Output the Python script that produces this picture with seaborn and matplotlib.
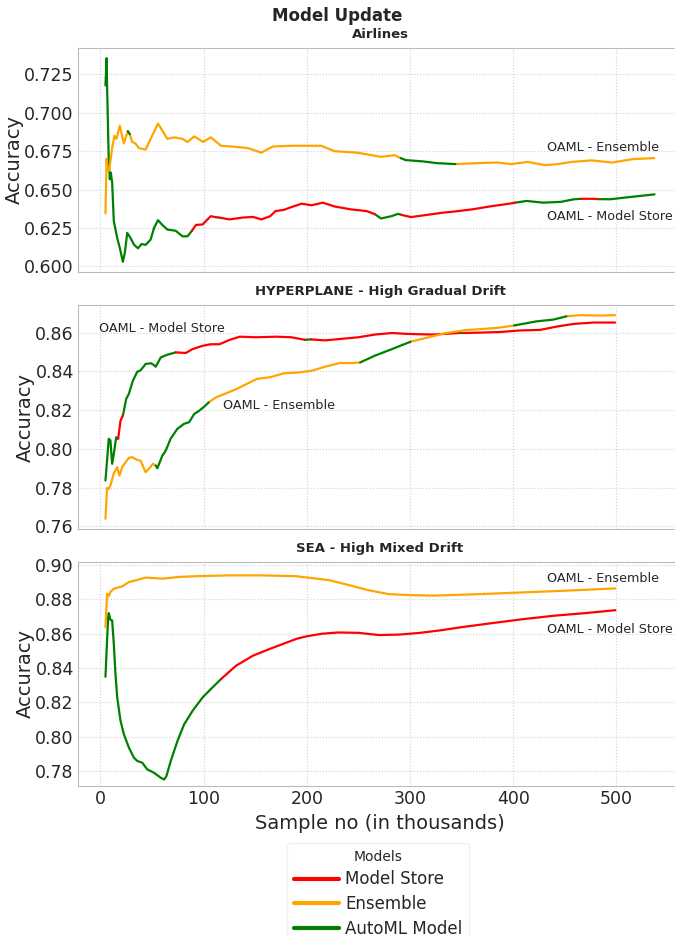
import numpy as np
import pandas as pd
import matplotlib
matplotlib.use("Agg")
import matplotlib.pyplot as plt
import seaborn as sns
from matplotlib.lines import Line2D
from matplotlib.ticker import MultipleLocator, FormatStrFormatter

# -----------------------------
# DATA (sample no in thousands, accuracy)
# -----------------------------
# Airlines
air_x_store = [4.9, 6.0, 6.5, 8.1, 9.1, 10.1, 11.4, 13, 16.3, 18.8, 21.8, 23.7, 26, 29.2, 32.5,
               36.4, 40, 43.8, 48.7, 52, 55.8, 60, 64.9, 73, 79.5, 84.4, 88.7, 92.6, 99, 102.3,
               107, 112, 115, 125, 138, 148, 156, 164.6, 169.6, 177.7, 185, 195, 204.7, 215.6,
               227, 243, 258, 266, 272, 282, 288.5, 292, 301, 314, 331, 344, 360, 380, 396, 402,
               413, 429, 446, 459, 466, 478, 482, 494, 511, 525, 537]
air_y_store = [0.7178, 0.7355, 0.7170, 0.6687, 0.6567, 0.6610, 0.6545, 0.6295, 0.6185, 0.6120,
               0.6030, 0.6090, 0.6218, 0.6185, 0.6142, 0.6118, 0.6146, 0.6140, 0.6175, 0.6251,
               0.6301, 0.6270, 0.6240, 0.6232, 0.6196, 0.6196, 0.6232, 0.6270, 0.6273, 0.6296,
               0.6327, 0.6320, 0.6318, 0.6306, 0.6318, 0.6322, 0.6306, 0.6327, 0.6360, 0.6368,
               0.6386, 0.6408, 0.6398, 0.6415, 0.6390, 0.6371, 0.6360, 0.6340, 0.6312, 0.6327,
               0.6342, 0.6335, 0.6321, 0.6333, 0.6349, 0.6358, 0.6371, 0.6393, 0.6408, 0.6415,
               0.6426, 0.6415, 0.6420, 0.6437, 0.6440, 0.6440, 0.6438, 0.6437, 0.6450, 0.6460,
               0.6469]
air_sw_store = [(0, "AutoML Model"), (88.7, "Model Store"), (112, "AutoML Model"),
                (115, "Model Store"), (266, "AutoML Model"), (292, "Model Store"),
                (402, "AutoML Model"), (466, "Model Store"), (482, "AutoML Model")]

air_x_ens = [4.9, 6.0, 7.0, 8.5, 11.4, 13.6, 15.5, 18.8, 22.7, 26.6, 28.5, 30.8, 34, 37.3, 43.8,
             48.7, 55.8, 64.9, 71.4, 79.5, 84.4, 90.9, 99.6, 107, 116.9, 128, 143, 156, 167, 185,
             214, 227, 249, 272, 285, 291, 295.8, 313, 326, 344, 365, 385, 398, 414, 431, 443.8,
             456.7, 476, 496, 515.6, 536.7]
air_y_ens = [0.6345, 0.6700, 0.6620, 0.6625, 0.6770, 0.6850, 0.6830, 0.6916, 0.6800, 0.6880,
             0.6860, 0.6810, 0.6800, 0.6770, 0.6760, 0.6830, 0.6930, 0.6830, 0.6840, 0.6830,
             0.6810, 0.6846, 0.6810, 0.6840, 0.6785, 0.6780, 0.6770, 0.6740, 0.6780, 0.6785,
             0.6785, 0.6750, 0.6740, 0.6713, 0.6724, 0.6705, 0.6692, 0.6683, 0.6672, 0.6666,
             0.6672, 0.6676, 0.6666, 0.6680, 0.6659, 0.6666, 0.6680, 0.6690, 0.6676, 0.6698,
             0.6705]
air_sw_ens = [(0, "Ensemble"), (26.6, "AutoML Model"), (28.5, "Ensemble"),
              (291, "AutoML Model"), (344, "Ensemble")]

# HYPERPLANE
hyp_x_store = [4.9, 8.1, 9.7, 11.4, 13, 15.3, 17.2, 19.5, 21.8, 25, 27.6, 31.5, 35.7, 38.9, 43.8,
               48.7, 51, 53.6, 58.5, 64.9, 73, 82.8, 89.3, 99, 107, 115.4, 125, 135, 151, 170.6,
               185, 198, 204, 217.6, 234, 250, 266, 282.6, 299, 322, 348, 352, 367, 387, 406,
               426, 442, 458.6, 478, 498.7]
hyp_y_store = [0.7837, 0.8052, 0.8044, 0.7923, 0.7974, 0.8060, 0.8052, 0.8146, 0.8172, 0.8258,
               0.8284, 0.8352, 0.8398, 0.8405, 0.8438, 0.8442, 0.8436, 0.8424, 0.8472, 0.8486,
               0.8498, 0.8495, 0.8515, 0.8532, 0.8540, 0.8540, 0.8562, 0.8579, 0.8576, 0.8579,
               0.8576, 0.8563, 0.8565, 0.8560, 0.8568, 0.8576, 0.8590, 0.8598, 0.8593, 0.8590,
               0.8598, 0.8598, 0.8600, 0.8603, 0.8611, 0.8614, 0.8631, 0.8645, 0.8652, 0.8652]
hyp_sw_store = [(0, "AutoML Model"), (17.2, "Model Store"), (21.8, "AutoML Model"),
                (73, "Model Store"), (198, "AutoML Model"), (204, "Model Store"),
                (348, "AutoML Model"), (352, "Model Store")]

hyp_x_ens = [4.9, 6.5, 8.1, 10, 13, 16.3, 18.5, 21.2, 24.4, 27.6, 30.8, 35.7, 39, 43.8, 47, 51,
             53.6, 55.2, 60, 63.3, 68, 74.5, 81, 86, 90.9, 95.8, 100.6, 105, 112, 122, 132,
             141.7, 151.6, 164.6, 177.7, 191.5, 204.7, 217.6, 232, 243.7, 251.7, 266, 282.6,
             300.5, 315, 335, 354, 373.7, 386.7, 401, 422.5, 438.7, 451.5, 464.6, 484, 498.7]
hyp_y_ens = [0.7639, 0.7799, 0.7793, 0.7816, 0.7874, 0.7905, 0.7862, 0.7907, 0.7931, 0.7954,
             0.7957, 0.7943, 0.7938, 0.7880, 0.7897, 0.7923, 0.7914, 0.7900, 0.7965, 0.7991,
             0.8052, 0.8103, 0.8129, 0.8138, 0.8180, 0.8197, 0.8218, 0.8240, 0.8266, 0.8287,
             0.8309, 0.8335, 0.8361, 0.8370, 0.8390, 0.8394, 0.8403, 0.8424, 0.8443, 0.8443,
             0.8446, 0.8481, 0.8515, 0.8553, 0.8572, 0.8598, 0.8613, 0.8620, 0.8626, 0.8637,
             0.8658, 0.8667, 0.8684, 0.8690, 0.8688, 0.8690]
hyp_sw_ens = [(0, "Ensemble"), (53.6, "AutoML Model"), (105, "Ensemble"),
              (251.7, "AutoML Model"), (300.5, "Ensemble"), (401, "AutoML Model"),
              (451.5, "Ensemble")]

# SEA
sea_x_store = [4.9, 7.5, 8.1, 9.7, 11.4, 13, 14.6, 16.3, 19.5, 22.7, 27.6, 32.5, 35.7, 40.5,
               45.4, 52, 58.5, 61.7, 64, 68.2, 74.7, 81.2, 89.3, 99, 107, 117, 131.6, 147.9,
               164, 190, 200, 215, 230, 250, 270, 290, 310, 330, 350, 380, 410, 440, 470, 499]
sea_y_store = [0.8349, 0.8697, 0.8720, 0.8681, 0.8677, 0.8540, 0.8365, 0.8228, 0.8092, 0.8014,
               0.7936, 0.7877, 0.7858, 0.7848, 0.7809, 0.7789, 0.7760, 0.7750, 0.7770, 0.7858,
               0.7975, 0.8072, 0.8150, 0.8228, 0.8277, 0.8336, 0.8414, 0.8472, 0.8511, 0.8570,
               0.8585, 0.8600, 0.8607, 0.8605, 0.8592, 0.8595, 0.8605, 0.8620, 0.8638, 0.8662,
               0.8685, 0.8705, 0.8720, 0.8737]
sea_sw_store = [(0, "AutoML Model"), (117, "Model Store")]

sea_x_ens = [4.9, 6.5, 8.1, 9.7, 13, 16.3, 21.2, 27.6, 34.1, 43.8, 60, 76.3, 92.6, 125, 158, 190,
             221.7, 238.5, 259.4, 280, 301.4, 322.4, 364.4, 406, 448, 498.7]
sea_y_ens = [0.8638, 0.8833, 0.8818, 0.8843, 0.8862, 0.8868, 0.8876, 0.8901, 0.8911, 0.8927,
             0.8921, 0.8931, 0.8935, 0.8940, 0.8940, 0.8935, 0.8912, 0.8887, 0.8854, 0.8830,
             0.8825, 0.8822, 0.8830, 0.8840, 0.8850, 0.8864]
sea_sw_ens = [(0, "Ensemble")]

titles = ["Airlines", "HYPERPLANE - High Gradual Drift", "SEA - High Mixed Drift"]
models = ["Model Store", "Ensemble", "AutoML Model"]
palette = {"Model Store": "red", "Ensemble": "orange", "AutoML Model": "green"}
ytick_step = [0.025, 0.02, 0.02]
ytick_fmt = ["%.3f", "%.2f", "%.2f"]
ylims = [None, None, (0.7712, 0.9018)]

# label positions (x, y) for "OAML - Ensemble" / "OAML - Model Store"
ens_labels = [(433, 0.6772), (119, 0.8223), (433, 0.8924)]
store_labels = [(433, 0.6327), (-1, 0.8620), (433, 0.8625)]


def segments(xs, ys, switches, prefix):
    # split one line into runs, colored by the model in use
    xs = np.asarray(xs, float)
    ys = np.asarray(ys, float)
    lab = []
    for x in xs:
        cur = switches[0][1]
        for sx, m in switches:
            if x >= sx:
                cur = m
        lab.append(cur)
    rows = []
    seg = 0
    start = 0
    n = len(xs)
    for i in range(1, n + 1):
        if i == n or lab[i] != lab[start]:
            stop = min(i, n - 1)
            for j in range(start, stop + 1):
                rows.append((xs[j], ys[j], lab[start], f"{prefix}{seg}"))
            seg += 1
            start = i
    return pd.DataFrame(rows, columns=["x", "acc", "model", "seg"])


panels = [
    [(air_x_store, air_y_store, air_sw_store), (air_x_ens, air_y_ens, air_sw_ens)],
    [(hyp_x_store, hyp_y_store, hyp_sw_store), (hyp_x_ens, hyp_y_ens, hyp_sw_ens)],
    [(sea_x_store, sea_y_store, sea_sw_store), (sea_x_ens, sea_y_ens, sea_sw_ens)],
]

# -----------------------------
# PLOT
# -----------------------------
sns.set_style("whitegrid", {"grid.linestyle": ":", "grid.color": "#d2d2d2",
                            "axes.edgecolor": "#bbbbbb"})

fig = plt.figure(figsize=(6.75, 9.36), dpi=100)
left, width, height = 78 / 675, 604 / 675, 224 / 936
bottoms = [1 - 272 / 936, 1 - 529 / 936, 1 - 786 / 936]
axes = []
for k in range(3):
    ax = fig.add_axes([left, bottoms[k], width, height],
                      sharex=axes[0] if axes else None)
    axes.append(ax)

for k, ax in enumerate(axes):
    for li, (xs, ys, sw) in enumerate(panels[k]):
        df = segments(xs, ys, sw, f"l{li}_")
        sns.lineplot(data=df, x="x", y="acc", hue="model", units="seg", estimator=None,
                     palette=palette, legend=False, sort=False, linewidth=1.6, ax=ax)
    ax.set_title(titles[k], fontsize=9.5, fontweight="bold", pad=7)
    ax.set_ylabel("Accuracy", fontsize=14, labelpad=0)
    ax.set_xlabel("")
    if ylims[k] is not None:
        ax.set_ylim(*ylims[k])
    ax.yaxis.set_major_locator(MultipleLocator(ytick_step[k]))
    ax.yaxis.set_major_formatter(FormatStrFormatter(ytick_fmt[k]))
    ax.tick_params(axis="both", labelsize=12.5, length=0, pad=3)
    ax.grid(True, linewidth=0.8)
    for s in ax.spines.values():
        s.set_linewidth(0.8)
    ax.text(ens_labels[k][0], ens_labels[k][1], "OAML - Ensemble", fontsize=9.2, va="center")
    ax.text(store_labels[k][0], store_labels[k][1], "OAML - Model Store", fontsize=9.2, va="center")

for ax in axes[:2]:
    ax.tick_params(labelbottom=False)
axes[2].set_xlabel("Sample no (in thousands)", fontsize=14)

fig.suptitle("Model Update", fontsize=12, fontweight="bold", y=0.993)

handles = [Line2D([0], [0], color=palette[m], lw=3) for m in models]
fig.legend(handles, models, title="Models", loc="upper center",
           bbox_to_anchor=(378 / 675, 1 - 843 / 936), borderaxespad=0,
           fontsize=12, title_fontsize=10, handlelength=2.7, handletextpad=0.4,
           labelspacing=0.4, frameon=True, edgecolor="#eeeeee")

fig.savefig("out.png", dpi=100)
